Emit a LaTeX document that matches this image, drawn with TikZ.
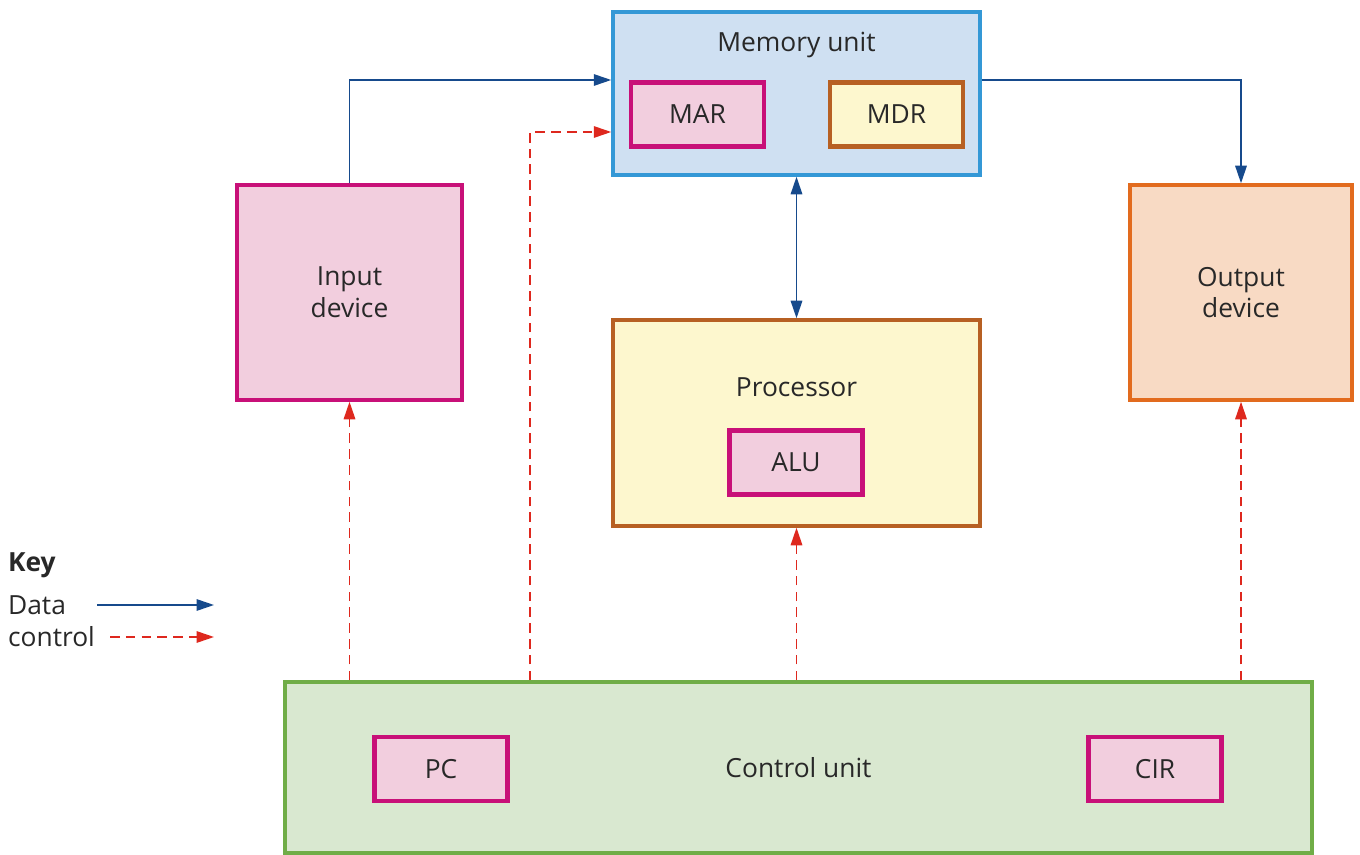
\documentclass[tikz,border=0pt]{standalone}
\usepackage{fontspec}
\setmainfont{Open Sans}
\usepackage{tikz}
\usetikzlibrary{arrows.meta,positioning,calc}
\usepackage{xcolor}
\definecolor{memLine}{RGB}{52,152,214}
\definecolor{memFill}{RGB}{207,224,242}
\definecolor{regLine}{RGB}{200,16,120}
\definecolor{regFill}{RGB}{242,206,222}
\definecolor{cpuLine}{RGB}{183,96,35}
\definecolor{cpuFill}{RGB}{253,247,206}
\definecolor{outLine}{RGB}{226,107,30}
\definecolor{outFill}{RGB}{248,218,196}
\definecolor{cuLine}{RGB}{112,173,71}
\definecolor{cuFill}{RGB}{217,232,208}
\definecolor{dataBlue}{RGB}{22,74,140}
\definecolor{ctrlRed}{RGB}{222,40,30}
\definecolor{txt}{RGB}{40,40,40}
\tikzset{
    every node/.append style={align=center,text=txt,font=\fontsize{15}{18}\selectfont},
    unit/.style={rectangle,line width=2pt,inner sep=0pt},
    reg/.style={rectangle,draw=regLine,fill=regFill,line width=2.6pt,minimum width=2.66cm,
        minimum height=1.28cm},
    lbl/.style={inner sep=1pt},
    data/.style={-{Triangle[length=3.5mm,width=2.3mm]},dataBlue,line width=0.9pt},
    ctrl/.style={-{Triangle[length=3.5mm,width=2.3mm]},ctrlRed,line width=0.9pt,
        dash pattern=on 5.5pt off 3.5pt}
}
\begin{document}
\begin{tikzpicture}
    \useasboundingbox (0,0) rectangle (27.2,-17.1);

    \node[unit,draw=memLine,fill=memFill,minimum width=7.34cm,minimum height=3.26cm] (mem) at (15.93,-1.87) {};
    \node[lbl] (memlbl) at (15.93,-0.9) {Memory unit};
    \node[reg] (mar) at (13.95,-2.29) {MAR};
    \node[reg,draw=cpuLine,fill=cpuFill] (mdr) at (17.93,-2.29) {MDR};

    \node[unit,draw=regLine,fill=regFill,minimum width=4.5cm,minimum height=4.3cm] (inp) at (6.99,-5.85) {Input\\device};
    \node[unit,draw=outLine,fill=outFill,minimum width=4.44cm,minimum height=4.3cm] (out) at (24.82,-5.85) {Output\\device};

    \node[unit,draw=cpuLine,fill=cpuFill,minimum width=7.34cm,minimum height=4.12cm] (proc) at (15.93,-8.46) {};
    \node[lbl] (proclbl) at (15.93,-7.74) {Processor};
    \node[reg] (alu) at (15.92,-9.25) {ALU};

    \node[unit,draw=cuLine,fill=cuFill,minimum width=20.54cm,minimum height=3.42cm] (cu) at (15.97,-15.35) {Control unit};
    \node[reg] (pc) at (8.82,-15.38) {PC};
    \node[reg] (cir) at (23.1,-15.38) {CIR};

    % key
    \node[lbl,anchor=west,font=\fontsize{15}{18}\selectfont\bfseries] (key) at (0.12,-11.3) {Key};
    \node[lbl,anchor=west] (kdata) at (0.12,-12.1) {Data};
    \node[lbl,anchor=west] (kctrl) at (0.12,-12.74) {control};
    \coordinate (kd1) at (1.94,-12.1);
    \coordinate (kd2) at (4.28,-12.1);
    \coordinate (kc1) at (2.2,-12.74);
    \coordinate (kc2) at (4.28,-12.74);
    \draw[data] (kd1) -- (kd2);
    \draw[ctrl] (kc1) -- (kc2);

    % data paths
    \draw[data] (inp.north) |- ([yshift=0.27cm]mem.west);
    \draw[data] ([yshift=0.27cm]mem.east) -| (out.north);
    \draw[data,{Triangle[length=3.5mm,width=2.3mm]}-{Triangle[length=3.5mm,width=2.3mm]}] (mem.south) -- (proc.north);

    % control signals
    \foreach \t in {inp,proc,out} { \draw[ctrl] (cu.north -| \t.south) -- (\t.south); }
    \draw[ctrl] ([xshift=-5.37cm]cu.north) |- ([yshift=-0.77cm]mem.west);
\end{tikzpicture}
\end{document}
